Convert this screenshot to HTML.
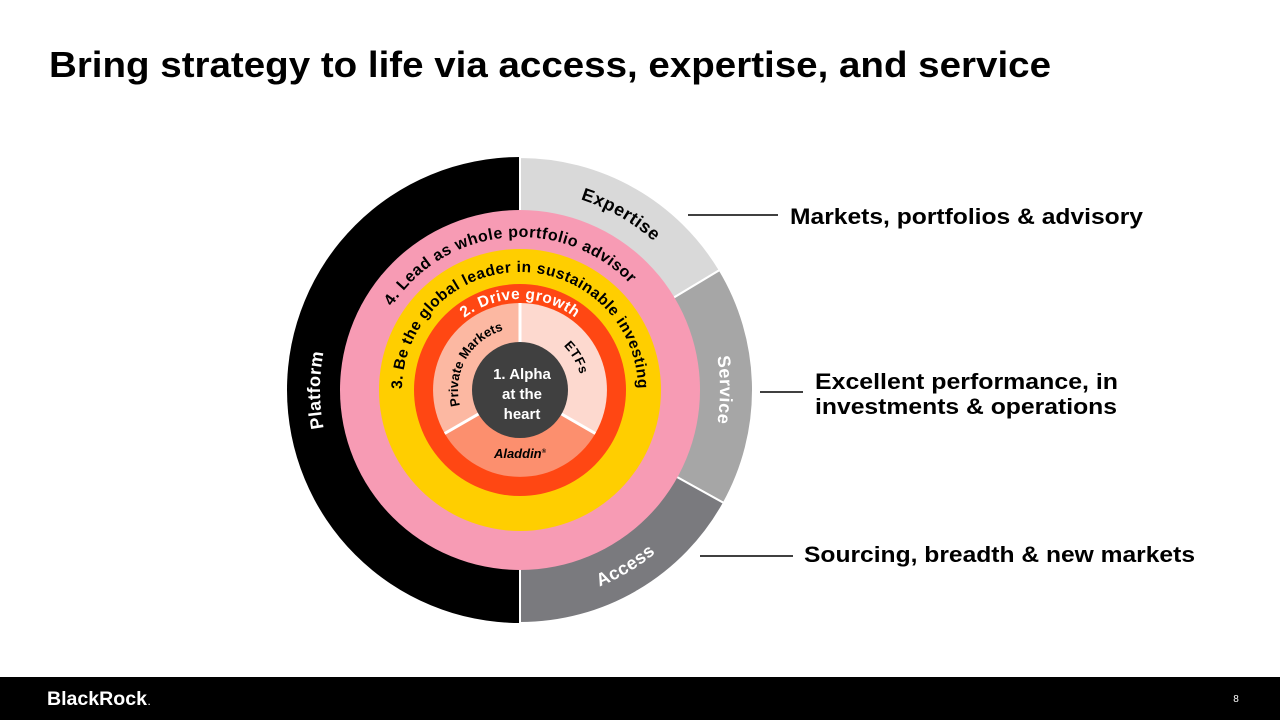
<!DOCTYPE html>
<html><head><meta charset="utf-8"><style>
html,body{margin:0;padding:0;background:#fff;}
svg{display:block;font-family:"Liberation Sans",sans-serif;font-weight:bold;}
</style></head><body>
<svg width="1280" height="720" viewBox="0 0 1280 720" xmlns="http://www.w3.org/2000/svg">
<defs>
<path id="cw200" d="M520,590 A200,200 0 1 1 520,190 A200,200 0 1 1 520,590"/>
<path id="ccw212" d="M520,178 A212,212 0 1 0 520,602 A212,212 0 1 0 520,178"/>
<path id="cw153" d="M520,543 A153,153 0 1 1 520,237 A153,153 0 1 1 520,543"/>
<path id="cw118" d="M520,508 A118,118 0 1 1 520,272 A118,118 0 1 1 520,508"/>
<path id="cw91" d="M520,481 A91,91 0 1 1 520,299 A91,91 0 1 1 520,481"/>
<path id="cw62" d="M520,452 A62,62 0 1 1 520,328 A62,62 0 1 1 520,452"/>
</defs>
<text x="49" y="77" font-size="36" fill="#000" textLength="1002" lengthAdjust="spacingAndGlyphs">Bring strategy to life via access, expertise, and service</text>

<path d="M520,390 L520,623 A233,233 0 0 1 520,157 Z" fill="#000"/>
<path d="M520,390 L520,157 A233,233 0 0 1 719.7,270 Z" fill="#d9d9d9" stroke="#fff" stroke-width="2"/>
<path d="M520,390 L719.7,270 A233,233 0 0 1 723.8,503 Z" fill="#a6a6a6" stroke="#fff" stroke-width="2"/>
<path d="M520,390 L723.8,503 A233,233 0 0 1 520,623 Z" fill="#7a7a7e" stroke="#fff" stroke-width="2"/>
<circle cx="520" cy="390" r="180" fill="#f79bb4"/>
<circle cx="520" cy="390" r="141" fill="#ffce00"/>
<circle cx="520" cy="390" r="106" fill="#ff4713"/>
<path d="M520,390 L520,303 A87,87 0 0 1 595.3,433.5 Z" fill="#fdd9cf"/>
<path d="M520,390 L595.3,433.5 A87,87 0 0 1 444.7,433.5 Z" fill="#fc8f6e"/>
<path d="M520,390 L444.7,433.5 A87,87 0 0 1 520,303 Z" fill="#fcb8a2"/>
<path d="M520,303 L520,390 L595.3,433.5 M520,390 L444.7,433.5" stroke="#fff" stroke-width="3" fill="none"/>
<circle cx="520" cy="390" r="48" fill="#404040"/>
<g fill="#fff" font-size="15" text-anchor="middle">
<text x="522" y="379">1. Alpha</text><text x="522" y="399">at the</text><text x="522" y="419">heart</text>
</g>

<g font-size="18" text-anchor="middle" letter-spacing="0.5">
<text fill="#000"><textPath href="#cw200" startOffset="58.3%">Expertise</textPath></text>
<text fill="#fff"><textPath href="#cw200" startOffset="75%">Service</textPath></text>
<text fill="#fff"><textPath href="#cw200" startOffset="25%">Platform</textPath></text>
<text fill="#fff"><textPath href="#ccw212" startOffset="58.6%">Access</textPath></text>
<text fill="#000" font-size="16"><textPath href="#cw153" startOffset="48.5%">4. Lead as whole portfolio advisor</textPath></text>
<text fill="#000" font-size="15.5"><textPath href="#cw118" startOffset="50%">3. Be the global leader in sustainable investing</textPath></text>
<text fill="#fff" font-size="15.5"><textPath href="#cw91" startOffset="50%">2. Drive growth</textPath></text>
<text fill="#000" font-size="13" letter-spacing="0"><textPath href="#cw62" startOffset="33.3%">Private Markets</textPath></text>
<text fill="#000" font-size="13"><textPath href="#cw62" startOffset="66.7%">ETFs</textPath></text>
</g>
<text x="520" y="458" font-size="13" font-style="italic" text-anchor="middle" fill="#000">Aladdin<tspan font-size="6" dy="-5">®</tspan></text>

<g stroke="#000" stroke-width="1.5">
<line x1="688" y1="215" x2="778" y2="215"/>
<line x1="760" y1="392" x2="803" y2="392"/>
<line x1="700" y1="556" x2="793" y2="556"/>
</g>
<g font-size="22" fill="#000">
<text x="790" y="224" textLength="353" lengthAdjust="spacingAndGlyphs">Markets, portfolios &amp; advisory</text>
<text x="815" y="389" textLength="303" lengthAdjust="spacingAndGlyphs">Excellent performance, in</text>
<text x="815" y="414" textLength="302" lengthAdjust="spacingAndGlyphs">investments &amp; operations</text>
<text x="804" y="562" textLength="391" lengthAdjust="spacingAndGlyphs">Sourcing, breadth &amp; new markets</text>
</g>

<rect x="0" y="677" width="1280" height="43" fill="#000"/>
<text x="47" y="705" font-size="19" fill="#fff" textLength="100" lengthAdjust="spacingAndGlyphs">BlackRock</text>
<text x="148" y="705" font-size="8" fill="#fff">.</text>
<text x="1236" y="702" font-size="10" font-weight="normal" fill="#fff" text-anchor="middle">8</text>
</svg>
</body></html>
